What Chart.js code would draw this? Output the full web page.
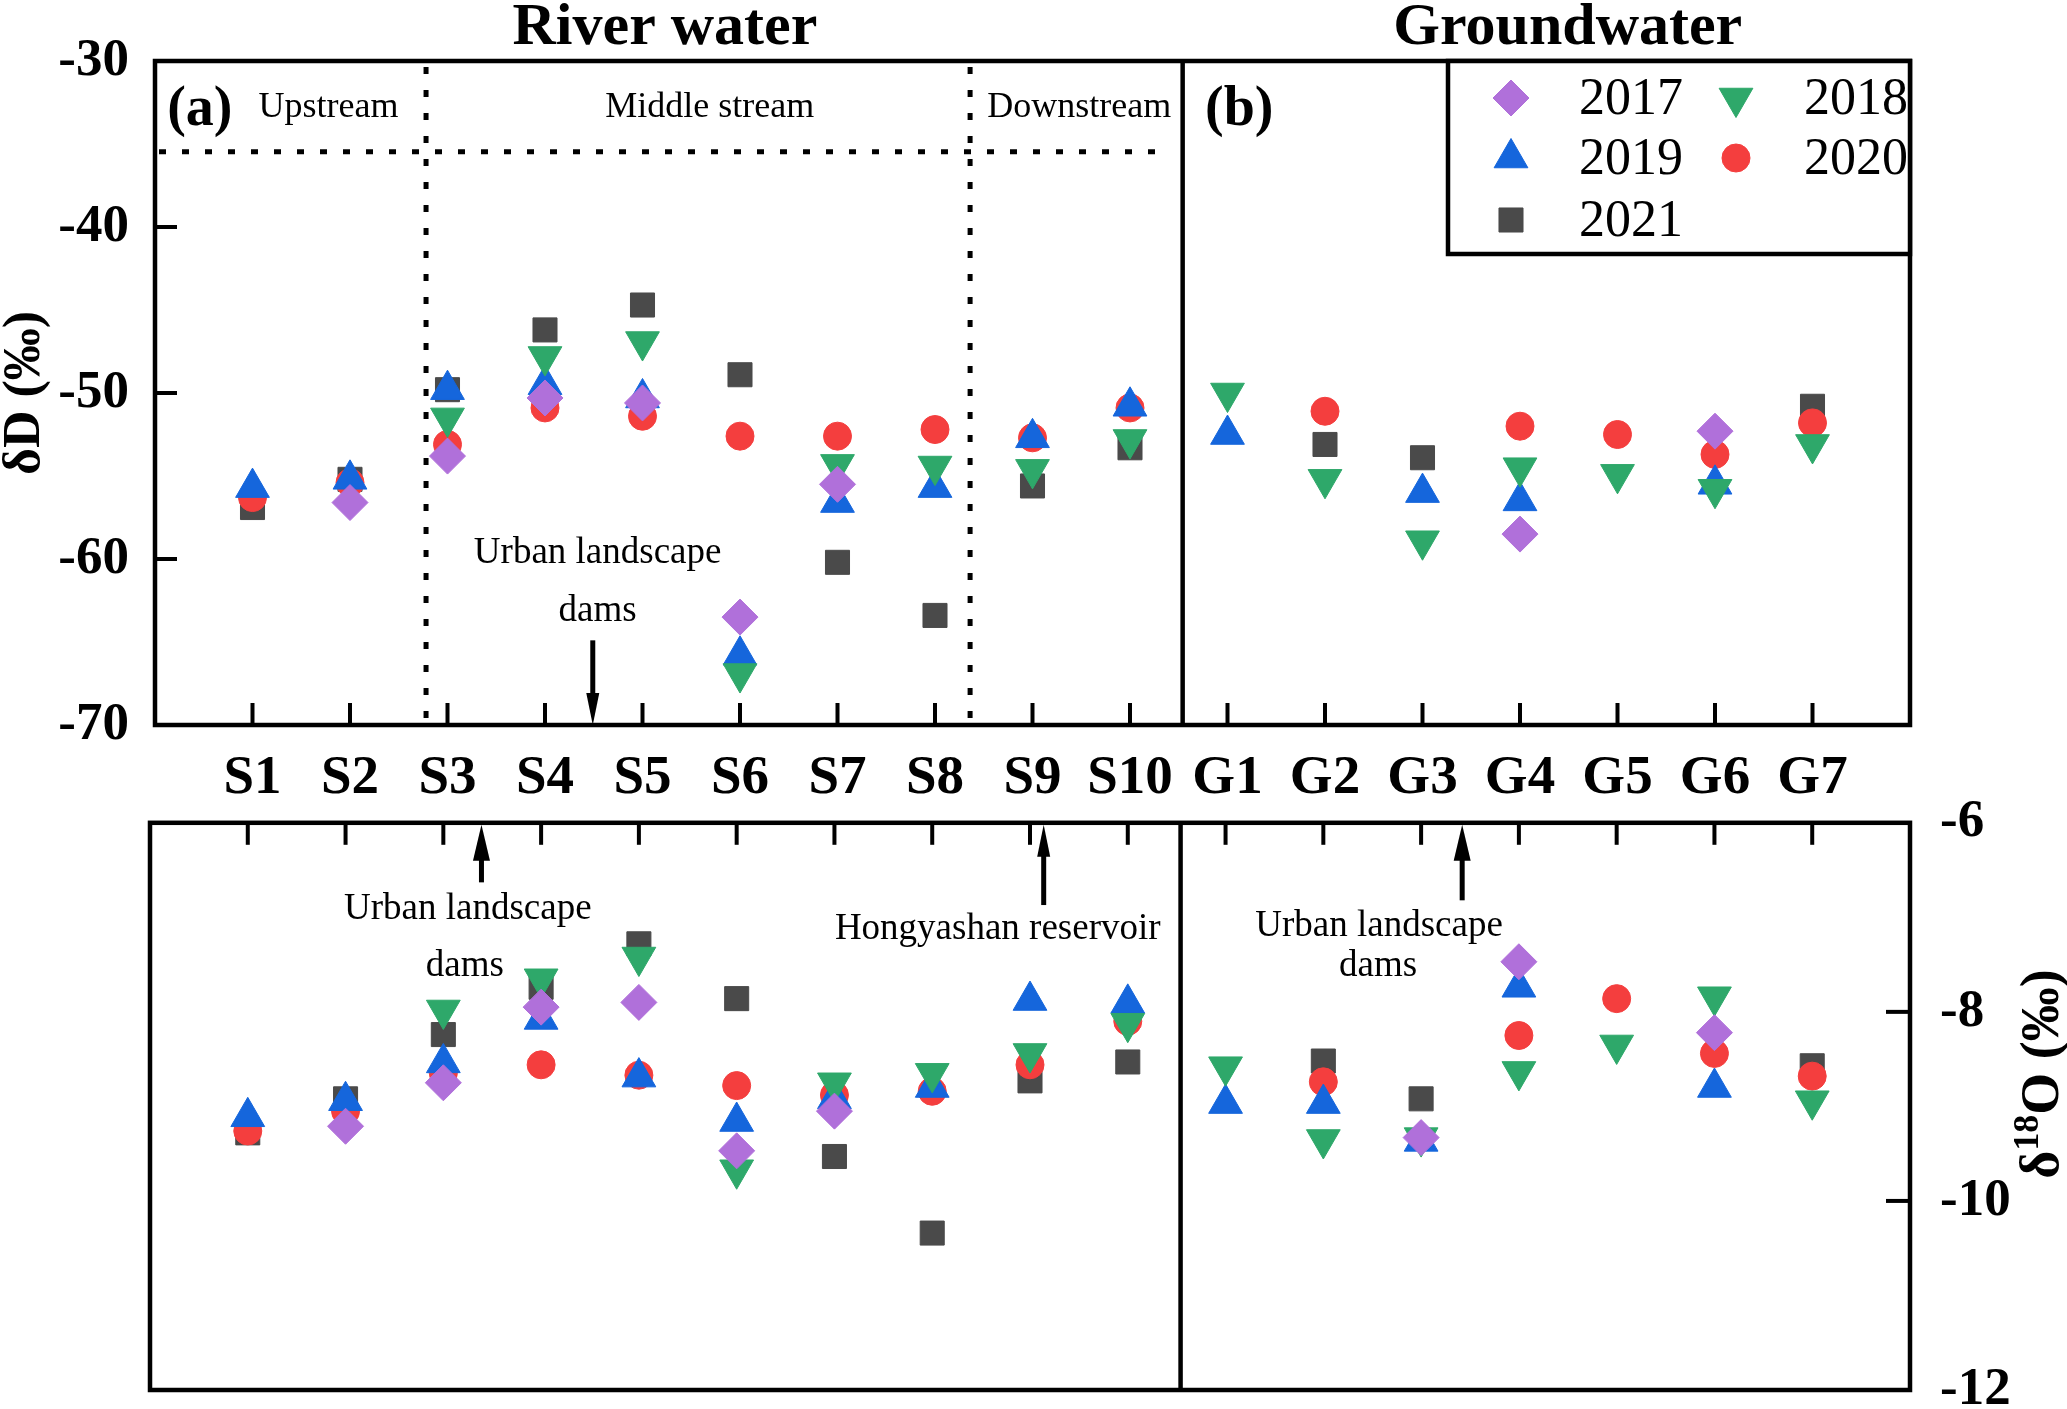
<!DOCTYPE html>
<html lang="en">
<head>
<meta charset="UTF-8">
<title>River water and groundwater isotopes</title>
<script src="https://cdn.jsdelivr.net/npm/chart.js"></script>
<style>
    html, body { margin: 0; padding: 0; background: #fff; overflow: hidden; width: 2067px; height: 1409px; }
    .panel { position: absolute; left: 0; width: 2067px; }
    #topBox { top: 0; height: 800px; }
    #bottomBox { top: 769px; height: 701px; }
</style>
</head>
<body>

<div class="panel" id="topBox"><canvas id="dDChart"></canvas></div>
<div class="panel" id="bottomBox"><canvas id="d18OChart"></canvas></div>

<script>
    // sites along the x axis
    const categories = ['S1', 'S2', 'S3', 'S4', 'S5', 'S6', 'S7', 'S8', 'S9', 'S10',
                        'G1', 'G2', 'G3', 'G4', 'G5', 'G6', 'G7'];
    const years = ['2017', '2018', '2019', '2020', '2021'];

    // δD (‰), null = no sample
    const dD2017 = [null, -56.6, -53.8, -50.3, -50.6, -63.5, -55.5, null, null, null,
                    null, null, null, -58.5, null, -52.3, null];
    const dD2018 = [null, null, -51.5, -47.8, -46.9, -66.9, -54.3, -54.4, -54.6, -52.8,
                    -50.0, -55.2, -58.9, -54.5, -54.9, -55.8, -53.1];
    const dD2019 = [-55.7, -55.2, -49.8, -49.5, -50.3, -65.8, -56.6, -55.7, -52.7, -50.8,
                    -52.5, null, -56.0, -56.5, null, -55.5, null];
    const dD2020 = [-56.3, -55.4, -53.1, -50.9, -51.4, -52.6, -52.6, -52.2, -52.7, -50.9,
                    null, -51.1, null, -52.0, -52.5, -53.7, -51.8];
    const dD2021 = [-56.9, -55.2, -49.8, -46.2, -44.7, -48.9, -60.2, -63.4, -55.6, -53.3,
                    null, -53.1, -53.9, null, null, null, -50.8];

    // δ18O (‰)
    const o2017 = [null, -9.21, -8.75, -7.95, -7.90, -9.47, -9.05, null, null, null,
                   null, null, -9.33, -7.47, null, -8.22, null];
    const o2018 = [null, null, -7.98, -7.65, -7.42, -9.67, -8.75, -8.65, -8.44, -8.12,
                   -8.58, -9.35, -9.33, -8.63, -8.35, -7.84, -8.94];
    const o2019 = [-9.11, -8.94, -8.54, -8.08, -8.69, -9.16, -8.92, -8.80, -7.88, -7.91,
                   -8.97, -8.97, -9.37, -7.74, null, -8.80, null];
    const o2020 = [-9.26, -9.05, -8.65, -8.56, -8.67, -8.78, -8.88, -8.84, -8.56, -8.10,
                   null, -8.74, null, -8.25, -7.86, -8.44, -8.68];
    const o2021 = [-9.28, -8.92, -8.24, -7.74, -7.28, -7.86, -9.53, -10.34, -8.73, -8.53,
                   null, -8.52, -8.92, null, null, null, -8.57];

    const dDTicks = [-70, -60, -50, -40, -30];
    const o18Ticks = [-12, -10, -8, -6];

    const markers = [
        { style: 'rectRot',  rot: 0,   r: 18,   color: '#b070da' },
        { style: 'triangle', rot: 180, r: 19.5, color: '#2ea86a' },
        { style: 'triangle', rot: 0,   r: 19.5, color: '#1566dc' },
        { style: 'circle',   rot: 0,   r: 14,   color: '#f43e3e' },
        { style: 'rect',     rot: 0,   r: 17,   color: '#4a4a4a' }
    ];

    const SERIF = '"Liberation Serif", "Times New Roman", serif';
    const SPLIT = 10.54; // river | groundwater divider
    const FRAME = 4.5;

    function toPoints(arr) {
        return categories.map((c, i) => ({ x: i + 1, y: arr[i] })).filter(p => p.y !== null);
    }

    function makeDatasets(series) {
        return series.map((arr, k) => ({
            label: years[k],
            data: toPoints(arr),
            pointStyle: markers[k].style,
            rotation: markers[k].rot,
            pointRadius: markers[k].r,
            pointHoverRadius: markers[k].r,
            backgroundColor: markers[k].color,
            borderColor: markers[k].color,
            pointBorderWidth: 1,
            showLine: false
        }));
    }

    function text(ctx, str, x, y, font, align) {
        ctx.save();
        ctx.font = font;
        ctx.fillStyle = '#000';
        ctx.textAlign = align || 'center';
        ctx.textBaseline = 'middle';
        ctx.fillText(str, x, y);
        ctx.restore();
    }

    function arrow(ctx, x, yFrom, yTo, headW, headL) {
        // line from yFrom to yTo, head at yTo
        const dir = yTo > yFrom ? 1 : -1;
        ctx.save();
        ctx.strokeStyle = '#000';
        ctx.fillStyle = '#000';
        ctx.lineWidth = 5;
        ctx.beginPath();
        ctx.moveTo(x, yFrom);
        ctx.lineTo(x, yTo - dir * headL * 0.8);
        ctx.stroke();
        ctx.beginPath();
        ctx.moveTo(x, yTo);
        ctx.lineTo(x - headW / 2, yTo - dir * headL);
        ctx.lineTo(x + headW / 2, yTo - dir * headL);
        ctx.closePath();
        ctx.fill();
        ctx.restore();
    }

    function line(ctx, x1, y1, x2, y2, w, dash) {
        ctx.save();
        ctx.strokeStyle = '#000';
        ctx.lineWidth = w;
        if (dash) ctx.setLineDash(dash);
        ctx.beginPath();
        ctx.moveTo(x1, y1);
        ctx.lineTo(x2, y2);
        ctx.stroke();
        ctx.restore();
    }

    function frame(ctx, a) {
        ctx.save();
        ctx.strokeStyle = '#000';
        ctx.lineWidth = FRAME;
        ctx.strokeRect(a.left, a.top, a.right - a.left, a.bottom - a.top);
        ctx.restore();
    }

    function drawMarker(ctx, k, x, y) {
        Chart.helpers.drawPoint(ctx, {
            pointStyle: markers[k].style,
            rotation: markers[k].rot,
            radius: markers[k].r,
            borderWidth: 1
        }, x, y);
    }

    // ---------- top panel: δD ----------
    const topDecor = {
        id: 'topDecor',
        afterDraw(chart) {
            const ctx = chart.ctx;
            const a = chart.chartArea;
            const xs = chart.scales.x, ys = chart.scales.y;

            // ticks pointing inwards
            for (let i = 1; i <= categories.length; i++) {
                const px = xs.getPixelForValue(i);
                line(ctx, px, a.bottom, px, a.bottom - 22, 4);
            }
            [-60, -50, -40].forEach(v => {
                const py = ys.getPixelForValue(v);
                line(ctx, a.left, py, a.left + 22, py, 4);
            });

            // dotted reach boundaries
            const dots = [7, 16];
            const yDot = ys.getPixelForValue(-35.46);
            line(ctx, a.left + 4, yDot, xs.getPixelForValue(10.42), yDot, 5, dots);
            [2.78, 8.36].forEach(v => {
                const px = xs.getPixelForValue(v);
                line(ctx, px, a.top + 6, px, a.bottom, 5, dots);
            });

            frame(ctx, a);
            const sx = xs.getPixelForValue(SPLIT);
            line(ctx, sx, a.top, sx, a.bottom, FRAME);

            // labels
            const boldBig = 'bold 60px ' + SERIF;
            text(ctx, 'River water', xs.getPixelForValue(5.23), a.top - 33, boldBig);
            text(ctx, 'Groundwater', xs.getPixelForValue(14.49), a.top - 33, boldBig);
            const panelFont = 'bold 56px ' + SERIF;
            text(ctx, '(a)', xs.getPixelForValue(0.46), ys.getPixelForValue(-32.96), panelFont);
            text(ctx, '(b)', xs.getPixelForValue(11.12), ys.getPixelForValue(-32.96), panelFont);
            const small = '36px ' + SERIF;
            const yReach = ys.getPixelForValue(-32.78);
            text(ctx, 'Upstream', xs.getPixelForValue(1.78), yReach, small);
            text(ctx, 'Middle stream', xs.getPixelForValue(5.69), yReach, small);
            text(ctx, 'Downstream', xs.getPixelForValue(9.48), yReach, small);

            const note = '37px ' + SERIF;
            text(ctx, 'Urban landscape', xs.getPixelForValue(4.54), ys.getPixelForValue(-59.68), note);
            text(ctx, 'dams', xs.getPixelForValue(4.54), ys.getPixelForValue(-63.12), note);
            arrow(ctx, xs.getPixelForValue(4.49), ys.getPixelForValue(-64.9), a.bottom, 13, 32);

            // axis title
            ctx.save();
            ctx.translate(26, (a.top + a.bottom) / 2);
            ctx.rotate(-Math.PI / 2);
            text(ctx, 'δD (‰)', 0, 0, 'bold 52px ' + SERIF);
            ctx.restore();

            // legend box
            const lx = a.right - 462, ly = a.top;
            ctx.save();
            ctx.fillStyle = '#fff';
            ctx.fillRect(lx, ly, 462, 193);
            ctx.strokeStyle = '#000';
            ctx.lineWidth = FRAME;
            ctx.strokeRect(lx, ly, 462, 193);
            ctx.restore();
            const legFont = '52px ' + SERIF;
            const rowsY = [37, 97, 159];
            years.forEach((yr, k) => {
                const col = k === 4 ? 0 : k % 2;
                const row = Math.floor(k / 2);
                const mx = lx + 63 + col * 225;
                const my = ly + rowsY[row];
                ctx.save();
                ctx.fillStyle = markers[k].color;
                ctx.strokeStyle = markers[k].color;
                drawMarker(ctx, k, mx, my);
                ctx.restore();
                text(ctx, yr, mx + 68, my + 2, legFont, 'left');
            });
        }
    };

    new Chart(document.getElementById('dDChart'), {
        type: 'scatter',
        data: { datasets: makeDatasets([dD2017, dD2018, dD2019, dD2020, dD2021]) },
        options: {
            responsive: true,
            maintainAspectRatio: false,
            animation: false,
            layout: { padding: { top: 61, right: 157, left: 0, bottom: 0 } },
            plugins: { legend: { display: false }, tooltip: { enabled: false } },
            scales: {
                x: {
                    type: 'linear', min: 0, max: 18,
                    grid: { display: false },
                    border: { display: false },
                    afterFit: s => { s.height = 75; },
                    afterBuildTicks: s => { s.ticks = Array.from({ length: 19 }, (_, i) => ({ value: i })); },
                    ticks: {
                        autoSkip: false, maxRotation: 0, padding: 13, color: '#000',
                        font: { family: SERIF, size: 55, weight: 'bold' },
                        callback: v => categories[v - 1] || ''
                    }
                },
                y: {
                    min: -70, max: -30,
                    grid: { display: false },
                    border: { display: false },
                    afterFit: s => { s.width = 155; },
                    afterBuildTicks: s => { s.ticks = dDTicks.map(v => ({ value: v })); },
                    ticks: {
                        padding: 18, color: '#000',
                        font: { family: SERIF, size: 53, weight: 'bold' }
                    }
                }
            }
        },
        plugins: [topDecor]
    });

    // ---------- bottom panel: δ18O ----------
    const bottomDecor = {
        id: 'bottomDecor',
        afterDraw(chart) {
            const ctx = chart.ctx;
            const a = chart.chartArea;
            const xs = chart.scales.x, ys = chart.scales.y;

            for (let i = 1; i <= categories.length; i++) {
                const px = xs.getPixelForValue(i);
                line(ctx, px, a.top, px, a.top + 22, 4);
            }
            [-10, -8].forEach(v => {
                const py = ys.getPixelForValue(v);
                line(ctx, a.right, py, a.right - 24, py, 4);
            });

            frame(ctx, a);
            const sx = xs.getPixelForValue(SPLIT);
            line(ctx, sx, a.top, sx, a.bottom, FRAME);

            const note = '37px ' + SERIF;
            arrow(ctx, xs.getPixelForValue(3.39), ys.getPixelForValue(-6.63), a.top + 2, 17, 36);
            text(ctx, 'Urban landscape', xs.getPixelForValue(3.25), ys.getPixelForValue(-6.91), note);
            text(ctx, 'dams', xs.getPixelForValue(3.22), ys.getPixelForValue(-7.52), note);

            arrow(ctx, xs.getPixelForValue(9.14), ys.getPixelForValue(-6.87), a.top + 2, 13, 32);
            text(ctx, 'Hongyashan reservoir', xs.getPixelForValue(8.67), ys.getPixelForValue(-7.13), note);

            arrow(ctx, xs.getPixelForValue(13.42), ys.getPixelForValue(-6.82), a.top + 2, 17, 36);
            text(ctx, 'Urban landscape', xs.getPixelForValue(12.57), ys.getPixelForValue(-7.09), note);
            text(ctx, 'dams', xs.getPixelForValue(12.56), ys.getPixelForValue(-7.52), note);

            // right axis title with superscript 18
            ctx.save();
            ctx.translate(2040, 1074 - 769);
            ctx.rotate(-Math.PI / 2);
            ctx.fillStyle = '#000';
            ctx.textBaseline = 'middle';
            ctx.textAlign = 'left';
            const big = 'bold 54px ' + SERIF, sup = 'bold 36px ' + SERIF;
            ctx.font = big;
            const w1 = ctx.measureText('δ').width;
            const w3 = ctx.measureText('O (‰)').width;
            ctx.font = sup;
            const w2 = ctx.measureText('18').width;
            const x0 = -(w1 + w2 + w3) / 2;
            ctx.font = big;
            ctx.fillText('δ', x0, 4);
            ctx.font = sup;
            ctx.fillText('18', x0 + w1, -11);
            ctx.font = big;
            ctx.fillText('O (‰)', x0 + w1 + w2, 4);
            ctx.restore();
        }
    };

    new Chart(document.getElementById('d18OChart'), {
        type: 'scatter',
        data: { datasets: makeDatasets([o2017, o2018, o2019, o2020, o2021]) },
        options: {
            responsive: true,
            maintainAspectRatio: false,
            animation: false,
            layout: { padding: { top: 32, right: 0, left: 150, bottom: 80 } },
            plugins: { legend: { display: false }, tooltip: { enabled: false } },
            scales: {
                x: {
                    type: 'linear', min: 0, max: 18,
                    display: false
                },
                y: {
                    position: 'right',
                    min: -12, max: -6,
                    grid: { display: false },
                    border: { display: false },
                    afterFit: s => { s.width = 157; },
                    afterBuildTicks: s => { s.ticks = o18Ticks.map(v => ({ value: v })); },
                    ticks: {
                        padding: 22, color: '#000',
                        font: { family: SERIF, size: 53, weight: 'bold' }
                    }
                }
            }
        },
        plugins: [bottomDecor]
    });
</script>
</body>
</html>
